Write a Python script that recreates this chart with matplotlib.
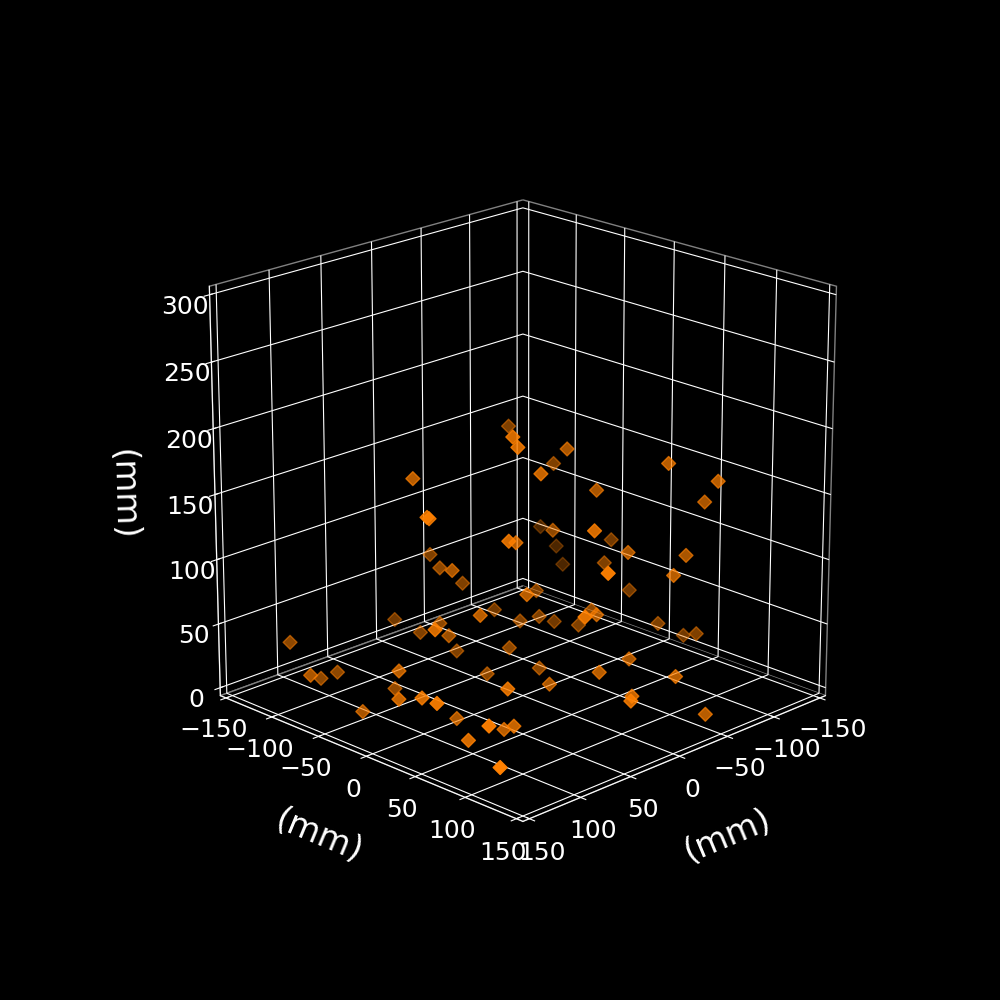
import matplotlib
matplotlib.use("Agg")
import matplotlib.pyplot as plt

xs = [-62, 42, 41, 65, 98, 97, 2, 16, 44, -10, 61, 24, 27, -47, 17, -79, -36, -44, -67, -89, -97, -130, -49, 17, -113, -135,
      -135, -49, -78, -88, 53, -50, -113, 107, 134, 97, 87, 15, 21, 113, 26, 40, 5, 54, -39, -33, -6, 105, 67, 126, 131, 150,
      113, 74, 10, 87, 115, 136, 64, 73, 150, -44, -68, -63, 54, -55, -22, -105, -134, -123, -18, -31, 4, -34, 14, 9, 28, -42]
ys = [-77, 32, 36, -46, 3, 4, -95, -70, -28, -73, 47, 17, 31, -33, 35, -47, 9, 31, 80, 108, 88, -111, -18, 88, -20, -99,
      -92, 58, 88, -3, 136, 102, -1, -134, -82, -112, -105, -120, -86, 26, -60, -36, -64, 11, -69, -36, -20, -20, -65, 2, 31, 66,
      -50, 7, -27, 72, 61, 103, 45, 64, 128, -27, -35, -5, 115, 16, 53, 36, 35, 58, -1, 77, 81, 120, 41, 118, 135, 142]
zs = [168, 212, 205, 167, 159, 158, 79, 79, 96, 59, 143, 124, 89, 54, 179, 142, 178, 150, 177, 165, 142, 62, 105, 150, 80, 48,
      35, 108, 106, 73, 141, 102, 45, 28, 25, 3, 7, 24, 25, 85, 41, 42, 12, 75, 31, 33, 24, 38, 0, 29, 40, 52,
      0, 0, 6, 46, 12, 42, 0, 11, 23, 36, 23, 30, 103, 50, 66, 31, 13, 24, 10, 36, 37, 34, 19, 31, 38, 9]
xy_ticks = [-150, -100, -50, 0, 50, 100, 150]
z_ticks = [0, 50, 100, 150, 200, 250, 300]

plt.style.use("dark_background")
plt.rcParams["axes3d.automargin"] = True

fig = plt.figure(figsize=(10, 10), dpi=100)
ax = fig.add_subplot(projection="3d")
ax.view_init(elev=20, azim=45)
ax.set_box_aspect((1, 1, 1), zoom=0.951)

ax.scatter(xs, ys, zs, marker="D", s=50, c="#ff8000")

ax.set_xlim(-150, 150)
ax.set_ylim(-150, 150)
ax.set_zlim(0, 300)
ax.set_xticks(xy_ticks)
ax.set_yticks(xy_ticks)
ax.set_zticks(z_ticks)
ax.tick_params(labelsize=18)

ax.set_xlabel("(mm)", fontsize=24, labelpad=22)
ax.set_ylabel("(mm)", fontsize=24, labelpad=22)
ax.set_zlabel("(mm)", fontsize=24, labelpad=22)

for axis in (ax.xaxis, ax.yaxis, ax.zaxis):
    axis.set_pane_color((0, 0, 0, 1))
    axis.pane.set_edgecolor("gray")
    axis.set_rotate_label(True)

fig.savefig("out.png", dpi=100)
